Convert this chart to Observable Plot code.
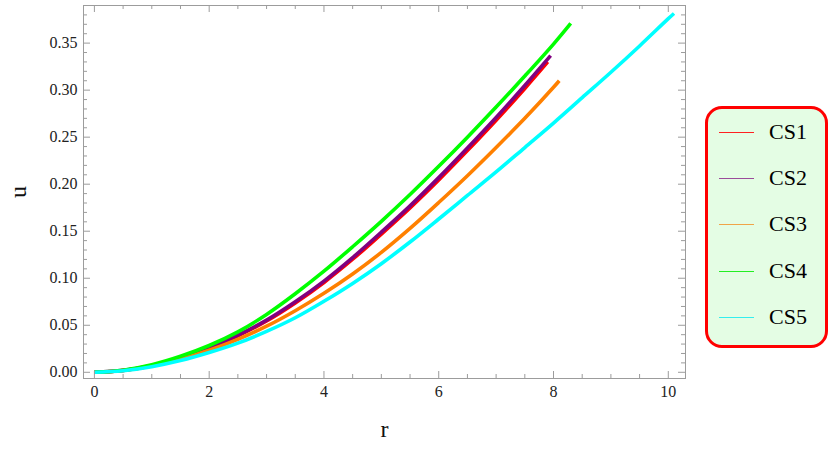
<!DOCTYPE html>
<html><head><meta charset="utf-8">
<script src="https://cdn.jsdelivr.net/npm/d3@7"></script>
<script src="https://cdn.jsdelivr.net/npm/@observablehq/plot@0.6"></script>
<style>
body{margin:0;background:#fff;}
#wrap{position:relative;width:830px;height:452px;}
#legend{position:absolute;left:705px;top:106px;width:123px;height:242px;box-sizing:border-box;border:3px solid #ff0000;border-radius:17px;background:#e4fde4;font-family:"Liberation Serif","DejaVu Serif",serif;font-size:22px;color:#000;}
.item{position:absolute;left:11px;height:26px;display:flex;align-items:center;}
.item .sw{width:35px;height:0;border-top:1.5px solid;margin-right:15px;}
</style>
</head><body>
<div id="wrap"><div id="chart"></div><div id="legend"></div></div>
<script>
const series = ["CS1","CS2","CS3","CS4","CS5"];
const colors = ["#ff0000","#800080","#ff8000","#00ff00","#00ffff"];
const legendColors = ["#ff2020","#9a4c9a","#f0a448","#22ee22","#33eeee"];

const r1 = [0,0.5,1,1.5,2,2.5,3,3.5,4,4.5,5,5.5,6,6.5,7,7.5,7.9];
const u1 = [0,0.0019,0.0070,0.0152,0.0259,0.0388,0.0545,0.0737,0.0955,0.1202,0.1470,0.1748,0.2045,0.2357,0.2680,0.3018,0.3300];
const r2 = [0,0.5,1,1.5,2,2.5,3,3.5,4,4.5,5,5.5,6,6.5,7,7.5,7.95];
const u2 = [0,0.0020,0.0072,0.0155,0.0265,0.0395,0.0555,0.0750,0.0970,0.1220,0.1490,0.1770,0.2070,0.2385,0.2710,0.3050,0.3367];
const r3 = [0,0.5,1,1.5,2,2.5,3,3.5,4,4.5,5,5.5,6,6.5,7,7.5,8,8.1];
const u3 = [0,0.0019,0.0066,0.0140,0.0235,0.0350,0.0490,0.0655,0.0840,0.1045,0.1275,0.1530,0.1805,0.2090,0.2390,0.2700,0.3030,0.3100];
const r4 = [0,0.5,1,1.5,2,2.5,3,3.5,4,4.5,5,5.5,6,6.5,7,7.5,8,8.3];
const u4 = [0,0.0022,0.0080,0.0170,0.0285,0.0430,0.0615,0.0835,0.1075,0.1335,0.1605,0.1890,0.2190,0.2500,0.2820,0.3150,0.3490,0.3710];
const r5 = [0,0.5,1,1.5,2,2.5,3,3.5,4,4.5,5,5.5,6,6.5,7,7.5,8,8.5,9,9.5,10,10.1];
const u5 = [0,0.0017,0.0060,0.0125,0.0210,0.0310,0.0435,0.0580,0.0755,0.0945,0.1155,0.1385,0.1630,0.1880,0.2130,0.2390,0.2650,0.2920,0.3190,0.3470,0.3760,0.3815];

const xMajor = [0,2,4,6,8,10];
const xMinor = [0.5,1,1.5,2.5,3,3.5,4.5,5,5.5,6.5,7,7.5,8.5,9,9.5];
const yMajor = [0,0.05,0.10,0.15,0.20,0.25,0.30,0.35];
const yMinor = [0.01,0.02,0.03,0.04,0.06,0.07,0.08,0.09,0.11,0.12,0.13,0.14,0.16,0.17,0.18,0.19,0.21,0.22,0.23,0.24,0.26,0.27,0.28,0.29,0.31,0.32,0.33,0.34,0.36,0.37,0.38];

const rs = [r1,r2,r3,r4,r5], us = [u1,u2,u3,u4,u5];
const data = [];
series.forEach((s,i)=>rs[i].forEach((r,j)=>data.push({series:s, r, u: us[i][j]})));

const W = 830, H = 452;
const mL = 83, mR = 145, mT = 5, mB = 74;
const iw = W - mL - mR, ih = H - mT - mB;
const gray = "#9c9c9c";

const chart = Plot.plot({
  width: W, height: H,
  marginLeft: mL, marginRight: mR, marginTop: mT, marginBottom: mB,
  style: {fontFamily: "'Liberation Serif', 'DejaVu Serif', serif", fontSize: "16px", color: "#222", background: "#fff"},
  x: {domain: [-0.19, 10.3]},
  y: {domain: [-0.0066, 0.39]},
  color: {domain: series, range: colors},
  marks: [
    Plot.line(data, {x: "r", y: "u", z: "series", stroke: "series", strokeWidth: 3.6, curve: "catmull-rom", strokeLinecap: "butt"}),
    Plot.frame({stroke: gray}),
    Plot.tickX(xMajor, {x: d=>d, insetTop: ih-7, stroke: gray}),
    Plot.tickX(xMinor, {x: d=>d, insetTop: ih-4, stroke: gray}),
    Plot.tickX(xMajor, {x: d=>d, insetBottom: ih-7, stroke: gray}),
    Plot.tickX(xMinor, {x: d=>d, insetBottom: ih-4, stroke: gray}),
    Plot.tickY(yMajor, {y: d=>d, insetRight: iw-7, stroke: gray}),
    Plot.tickY(yMinor, {y: d=>d, insetRight: iw-4, stroke: gray}),
    Plot.tickY(yMajor, {y: d=>d, insetLeft: iw-7, stroke: gray}),
    Plot.tickY(yMinor, {y: d=>d, insetLeft: iw-4, stroke: gray}),
    Plot.axisX({ticks: xMajor, tickSize: 0, tickPadding: 7, tickFormat: d=>String(d), label: null, fill: "#222"}),
    Plot.axisY({ticks: yMajor, tickSize: 0, tickPadding: 6, tickFormat: d3.format(".2f"), label: null, fill: "#222"}),
    Plot.text(["r"], {frameAnchor: "bottom", dy: 58, fontSize: 24, fill: "#111"}),
    Plot.text(["u"], {frameAnchor: "left", dx: -65, dy: 6, rotate: -90, fontSize: 24, fill: "#111"})
  ]
});
document.getElementById("chart").appendChild(chart);

const legend = document.getElementById("legend");
const itemY = [26, 72, 118, 165, 211];
series.forEach((s,i)=>{
  const div = document.createElement("div");
  div.className = "item";
  div.style.top = (itemY[i] - 3 - 13) + "px";
  div.innerHTML = `<span class="sw" style="border-color:${legendColors[i]}"></span><span>${s}</span>`;
  legend.appendChild(div);
});
</script>
</body></html>
